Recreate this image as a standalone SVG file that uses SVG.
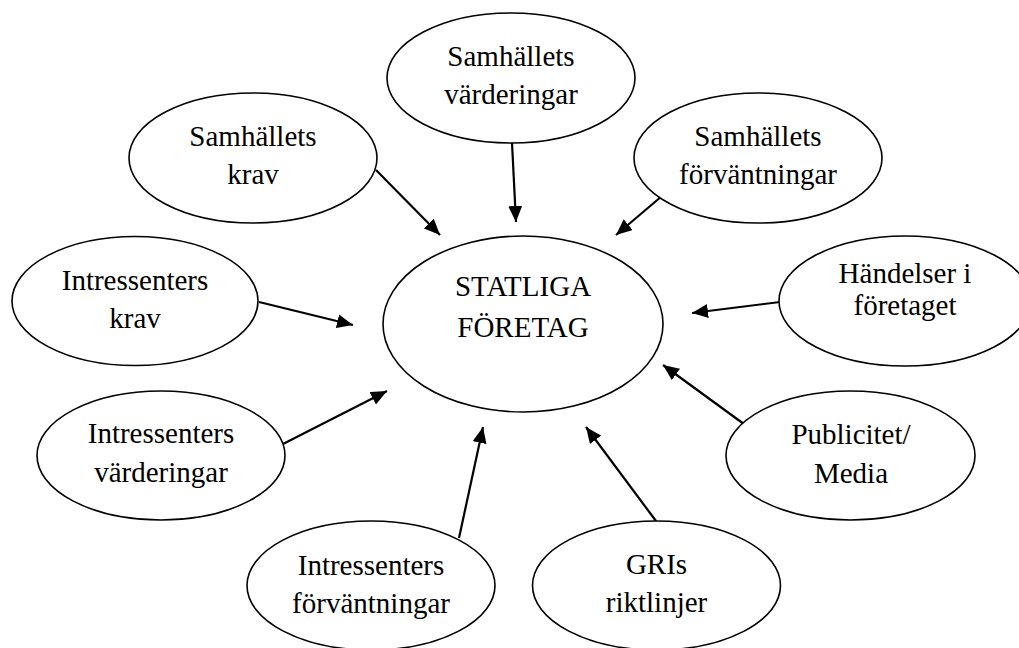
<svg xmlns="http://www.w3.org/2000/svg" width="1019" height="648" viewBox="0 0 1019 648">
<style>
.n ellipse{fill:#fff;stroke:#000;stroke-width:1.6}
.n text{font-family:"Liberation Serif","Times New Roman",serif;font-size:29px;fill:#000;text-anchor:middle}
.c line{stroke:#000;stroke-width:2.2;marker-end:url(#ah)}
</style>
<defs>
<marker id="ah" markerUnits="userSpaceOnUse" markerWidth="17" markerHeight="14" refX="16" refY="7" orient="auto">
<path d="M0,0 L16,7 L0,14 z" fill="#000"/>
</marker>
</defs>
<rect width="1019" height="648" fill="#fff"/>
<g id="connectors" class="c">
<line x1="512" y1="143" x2="516" y2="222"/>
<line x1="376" y1="170" x2="440" y2="235"/>
<line x1="662" y1="196" x2="616" y2="235"/>
<line x1="259" y1="302" x2="353" y2="325"/>
<line x1="780" y1="302" x2="692" y2="313"/>
<line x1="283" y1="444" x2="387" y2="391"/>
<line x1="748" y1="427" x2="663" y2="365"/>
<line x1="459" y1="538" x2="483" y2="427"/>
<line x1="656" y1="521" x2="586" y2="427"/>
</g>
<g id="samhallets-varderingar" class="n">
<ellipse cx="511" cy="78" rx="124" ry="65"/>
<text x="511" y="66">Samhällets</text>
<text x="511" y="104">värderingar</text>
</g>
<g id="samhallets-krav" class="n">
<ellipse cx="253" cy="158" rx="124" ry="65"/>
<text x="253" y="146">Samhällets</text>
<text x="253" y="184">krav</text>
</g>
<g id="samhallets-forvantningar" class="n">
<ellipse cx="758" cy="158" rx="124" ry="65"/>
<text x="758" y="146">Samhällets</text>
<text x="758" y="184">förväntningar</text>
</g>
<g id="intressenters-krav" class="n">
<ellipse cx="135" cy="301" rx="123" ry="64.5"/>
<text x="135" y="290">Intressenters</text>
<text x="135" y="328">krav</text>
</g>
<g id="statliga-foretag" class="n">
<ellipse cx="523" cy="324" rx="140" ry="88"/>
<text x="523" y="296">STATLIGA</text>
<text x="523" y="337">FÖRETAG</text>
</g>
<g id="handelser" class="n">
<ellipse cx="905" cy="301" rx="126" ry="65"/>
<text x="905" y="283">Händelser i</text>
<text x="905" y="315">företaget</text>
</g>
<g id="intressenters-varderingar" class="n">
<ellipse cx="161" cy="455.5" rx="124" ry="64.5"/>
<text x="161" y="443">Intressenters</text>
<text x="161" y="482">värderingar</text>
</g>
<g id="publicitet-media" class="n">
<ellipse cx="850.5" cy="455.5" rx="124.5" ry="64.5"/>
<text x="851" y="444">Publicitet/</text>
<text x="851" y="483">Media</text>
</g>
<g id="intressenters-forvantningar" class="n">
<ellipse cx="371" cy="585.5" rx="124" ry="64.5"/>
<text x="371" y="575">Intressenters</text>
<text x="371" y="613">förväntningar</text>
</g>
<g id="gris-riktlinjer" class="n">
<ellipse cx="656.5" cy="585.5" rx="124" ry="64.5"/>
<text x="656.5" y="574">GRIs</text>
<text x="656.5" y="612">riktlinjer</text>
</g>
</svg>
